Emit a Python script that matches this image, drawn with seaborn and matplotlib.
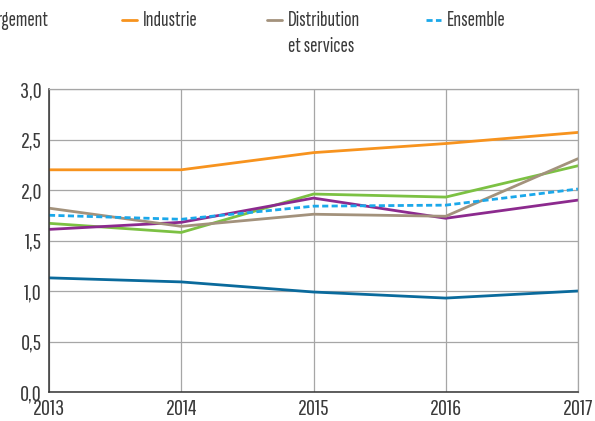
import pandas as pd
import seaborn as sns
import matplotlib.pyplot as plt
from matplotlib.lines import Line2D

# Data
years = [2013, 2014, 2015, 2016, 2017]
industrie = [2.20, 2.20, 2.37, 2.46, 2.57]
distribution = [1.82, 1.64, 1.76, 1.74, 2.31]
ensemble = [1.75, 1.71, 1.84, 1.85, 2.01]
serie_bleue = [1.13, 1.09, 0.99, 0.93, 1.00]
serie_verte = [1.67, 1.58, 1.96, 1.93, 2.24]
serie_violette = [1.61, 1.68, 1.92, 1.72, 1.90]

series = {
    'Série bleue': serie_bleue,
    'Série verte': serie_verte,
    'Série violette': serie_violette,
    'Distribution\net services': distribution,
    'Industrie': industrie,
    'Ensemble': ensemble,
}
colors = {
    'Série bleue': '#0a6a9c',
    'Série verte': '#7cc143',
    'Série violette': '#8c2a8e',
    'Distribution\net services': '#a3927c',
    'Industrie': '#f7931e',
    'Ensemble': '#1ba8ea',
}
dashes = {k: '' for k in series}
dashes['Ensemble'] = (2.2, 1.2)

df = pd.DataFrame([(y, name, v) for name, vals in series.items() for y, v in zip(years, vals)],
                  columns=['annee', 'serie', 'valeur'])

sns.set_style('white')
plt.rcParams['font.family'] = ['Pathway Gothic One', 'DejaVu Sans']

W, H = 595, 421
fig = plt.figure(figsize=(W / 100, H / 100), dpi=100)
ax = fig.add_axes([49 / W, (H - 392) / H, (578 - 49) / W, (392 - 89) / H])

sns.lineplot(data=df, x='annee', y='valeur', hue='serie', style='serie',
             palette=colors, dashes=dashes, linewidth=2.0, legend=False, ax=ax,
             hue_order=list(series), style_order=list(series))

ax.set_xlim(2013, 2017)
ax.set_ylim(0, 3)
ax.set_xticks(years)
ax.set_yticks([0, 0.5, 1, 1.5, 2, 2.5, 3])
ax.set_yticklabels(['0,0', '0,5', '1,0', '1,5', '2,0', '2,5', '3,0'])
ax.grid(True, color='#a6a6a6', linewidth=0.9)
ax.set_axisbelow(True)
ax.set_xlabel('')
ax.set_ylabel('')
for side in ['top', 'right']:
    ax.spines[side].set_color('#a6a6a6')
    ax.spines[side].set_linewidth(0.9)
for side in ['left', 'bottom']:
    ax.spines[side].set_color('#333333')
    ax.spines[side].set_linewidth(1.1)
ax.tick_params(length=0, labelsize=16, colors='#3a3a3a')
ax.tick_params(axis='x', pad=5)
ax.tick_params(axis='y', pad=5)

# legend row (the top of the original is cropped)
txt = dict(fontsize=16, color='#3a3a3a', va='center',
           family=['Sofia Sans Extra Condensed', 'DejaVu Sans'])
fig.text(48 / W, 1 - 20 / H, 'rgement', ha='right', **txt)
entries = [('Industrie', 122), ('Distribution\net services', 267), ('Ensemble', 426)]
for name, x0 in entries:
    fig.add_artist(Line2D([x0 / W, (x0 + 15) / W], [1 - 20 / H, 1 - 20 / H],
                          color=colors[name], linewidth=2.0,
                          linestyle=(0, dashes[name]) if dashes[name] else '-'))
    first, *rest = name.split('\n')
    fig.text((x0 + 21) / W, 1 - 20 / H, first, ha='left', **txt)
    for i, line in enumerate(rest):
        fig.text((x0 + 21) / W, 1 - (46 + 27 * i) / H, line, ha='left', **txt)

fig.savefig('out.png', dpi=100)
